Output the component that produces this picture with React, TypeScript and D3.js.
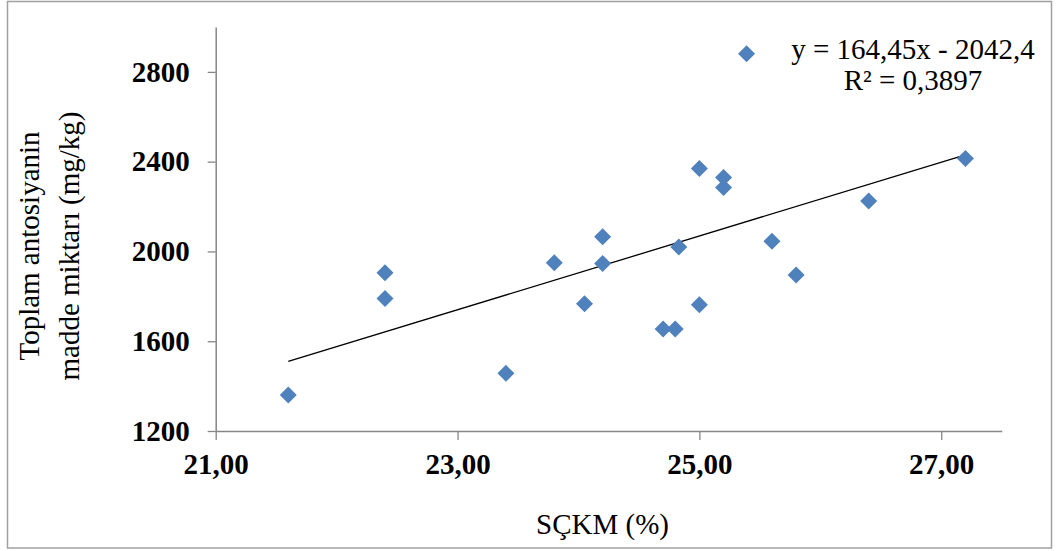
import { useEffect, useRef } from 'react';
import * as d3 from 'd3';

// SÇKM (%) vs toplam antosiyanin (mg/kg)
const sckm = [21.6, 22.4, 22.4, 23.4, 23.8, 24.05, 24.2, 24.2, 24.7, 24.8, 24.83, 25.0, 25.0, 25.2, 25.2, 25.39, 25.6, 25.8, 26.4, 27.2];
const antosiyanin = [1360, 1790, 1905, 1457, 1950, 1767, 1946, 2065, 1655, 1655, 2020, 1763, 2370, 2285, 2330, 2881, 2045, 1895, 2225, 2414];

const xTicks = [21, 23, 25, 27];
const yTicks = [1200, 1600, 2000, 2400, 2800];
const xDomain = [21, 27.5];
const yDomain = [1200, 3000];

// linear trend from the chart's own label
const slope = 164.45;
const intercept = -2042.4;
const equationLines = ['y = 164,45x - 2042,4', 'R² = 0,3897'];

const xTitle = 'SÇKM (%)';
const yTitleLines = ['Toplam antosiyanin', 'madde miktarı (mg/kg)'];

const FONT = "'Liberation Serif', 'Times New Roman', serif";
const AXIS_COLOR = '#868686';
const POINT_COLOR = '#4f81bd';

export default function App() {
  const svgRef = useRef<SVGSVGElement>(null);

  const drawChart = () => {
    if (!svgRef.current) return;
    const svg = d3.select(svgRef.current);
    svg.selectAll('*').remove();

    const plot = { left: 215.7, right: 1001.7, top: 27, bottom: 431 };

    const x = d3.scaleLinear().domain(xDomain).range([plot.left, plot.right]);
    const y = d3.scaleLinear().domain(yDomain).range([plot.bottom, plot.top]);

    const commaLocale = d3.formatLocale({
      decimal: ',',
      thousands: '.',
      grouping: [3],
      currency: ['', ''],
    });

    // outer frame
    svg
      .append('rect')
      .attr('x', 7.5)
      .attr('y', 1.5)
      .attr('width', 1044)
      .attr('height', 546.5)
      .attr('fill', 'white')
      .attr('stroke', '#a0a0a0')
      .attr('stroke-width', 1.5);

    // x axis
    const xAxis = svg
      .append('g')
      .attr('transform', `translate(0,${plot.bottom})`)
      .call(
        d3
          .axisBottom(x)
          .tickValues(xTicks)
          .tickSize(9)
          .tickSizeOuter(0)
          .tickPadding(13)
          .tickFormat(d => commaLocale.format('.2f')(d as number))
      );

    // y axis
    const yAxis = svg
      .append('g')
      .attr('transform', `translate(${plot.left},0)`)
      .call(
        d3
          .axisLeft(y)
          .tickValues(yTicks)
          .tickSize(8)
          .tickSizeOuter(0)
          .tickPadding(18)
          .tickFormat(d3.format('d'))
      );

    [xAxis, yAxis].forEach(ax => {
      ax.select('.domain').attr('stroke', AXIS_COLOR).attr('stroke-width', 1.5);
      ax.selectAll('.tick line').attr('stroke', AXIS_COLOR).attr('stroke-width', 1.3);
      ax.selectAll('.tick text')
        .attr('fill', '#000')
        .style('font-family', FONT)
        .style('font-size', '29px')
        .style('font-weight', 'bold');
    });

    // trend line over the x range of the data
    const [xMin, xMax] = d3.extent(sckm) as [number, number];
    svg
      .append('line')
      .attr('x1', x(xMin))
      .attr('y1', y(slope * xMin + intercept))
      .attr('x2', x(xMax))
      .attr('y2', y(slope * xMax + intercept))
      .attr('stroke', '#000')
      .attr('stroke-width', 1.3);

    // diamond markers
    const h = 8.5;
    svg
      .selectAll('.dot')
      .data(sckm)
      .enter()
      .append('path')
      .attr('class', 'dot')
      .attr('d', `M0,${-h}L${h},0L0,${h}L${-h},0Z`)
      .attr('transform', (d, i) => `translate(${x(d)},${y(antosiyanin[i])})`)
      .attr('fill', POINT_COLOR);

    // equation label
    svg
      .append('g')
      .selectAll('text')
      .data(equationLines)
      .enter()
      .append('text')
      .attr('x', 913)
      .attr('y', (d, i) => 58.5 + i * 31)
      .attr('text-anchor', 'middle')
      .style('font-family', FONT)
      .style('font-size', '29px')
      .text(d => d);

    // axis titles
    svg
      .append('text')
      .attr('x', 602.5)
      .attr('y', 534)
      .attr('text-anchor', 'middle')
      .style('font-family', FONT)
      .style('font-size', '29px')
      .text(xTitle);

    svg
      .append('g')
      .selectAll('text')
      .data(yTitleLines)
      .enter()
      .append('text')
      .attr('transform', (d, i) => `translate(${39 + i * 40},246) rotate(-90)`)
      .attr('text-anchor', 'middle')
      .style('font-family', FONT)
      .style('font-size', '29px')
      .text(d => d);
  };

  useEffect(() => {
    drawChart();
  }, []);

  return (
    <svg
      ref={svgRef}
      width={1057}
      height={551}
      style={{ position: 'absolute', left: 0, top: 0, background: 'white' }}
    ></svg>
  );
}
